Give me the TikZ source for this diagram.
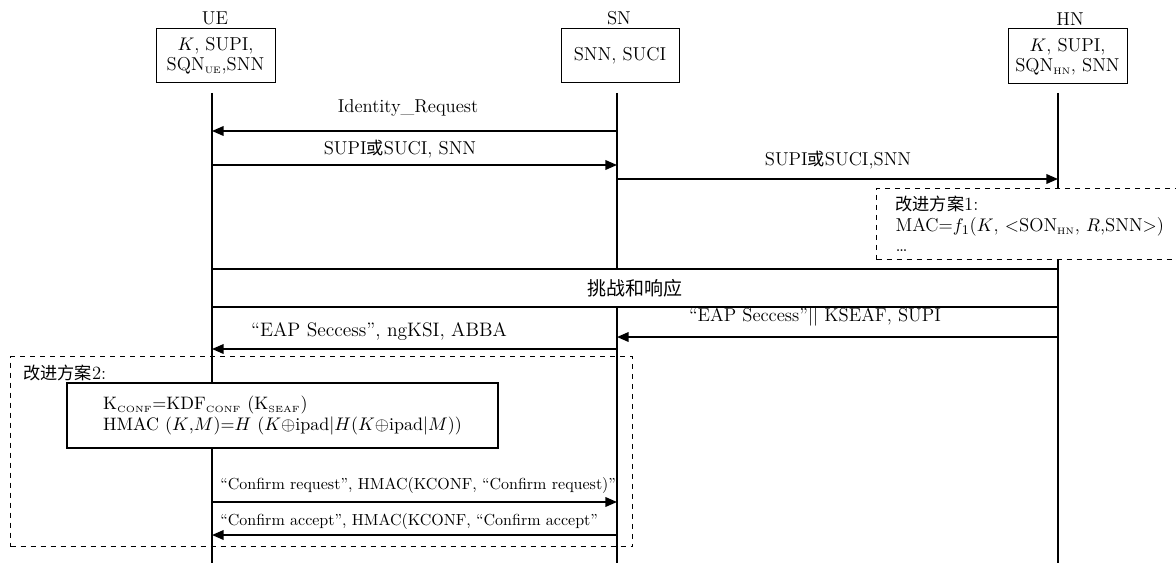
\documentclass[tikz,border=0pt]{standalone}
\usepackage{fontspec}
\newfontfamily\cjk[Scale=0.92]{Noto Sans CJK SC}
\usetikzlibrary{arrows.meta}
% Chinese words inside Latin text
\newcommand{\zh}[1]{{\cjk #1}}
% small upright subscript used in identifiers such as SQN_UE
\newcommand{\lowsub}[1]{$_{\scriptscriptstyle\mathrm{#1}}$}

\begin{document}
\begin{tikzpicture}[x=0.6pt,y=-0.6pt,
  every node/.style={font=\fontsize{11.2}{12.3}\selectfont},
  party/.style={draw, line width=0.6pt, align=center, inner sep=0pt,
    minimum width=71.4pt, minimum height=32.4pt, fill=white},
  head/.style={inner sep=0pt},
  life/.style={line width=1.2pt},
  msg/.style={line width=0.95pt, -{Triangle[length=7pt,width=5.8pt]}},
  lbl/.style={inner sep=0pt},
  small/.style={font=\fontsize{9.6}{11}\selectfont},
  phase/.style={draw, line width=0.7pt, fill=white, inner sep=0pt,
    minimum width=507.6pt, minimum height=22.8pt, font=\fontsize{12.4}{14}\selectfont\cjk},
  plan/.style={draw, dashed, line width=0.6pt, inner sep=0pt},
  formula/.style={draw, line width=0.7pt, fill=white, align=left, inner sep=0pt,
    minimum width=258.6pt, minimum height=39pt, font=\fontsize{10.8}{12.8}\selectfont}]

\useasboundingbox (0,0) rectangle (1176,563);

% participants
\node[head] (ue-name) at (215,18) {UE};
\node[head] (sn-name) at (619,18) {SN};
\node[head] (hn-name) at (1070,19) {HN};

\node[party] (ue-box) at (215.5,55.5) {$K$, SUPI,\\SQN\lowsub{UE},SNN};
\node[party, minimum width=70.8pt] (sn-box) at (620,55.5) {SNN, SUCI};
\node[party, minimum height=33pt] (hn-box) at (1067.5,56.5) {$K$, SUPI,\\SQN\lowsub{HN}, SNN};

% lifelines
\coordinate (ue-top) at (212,93);  \coordinate (ue-bot) at (212,563);
\coordinate (sn-top) at (617,93);  \coordinate (sn-bot) at (617,563);
\coordinate (hn-top) at (1058,93); \coordinate (hn-bot) at (1058,563);
\draw[life] (ue-top) -- (ue-bot);
\draw[life] (sn-top) -- (sn-bot);
\draw[life] (hn-top) -- (hn-bot);

% message rows on each lifeline
\foreach \r/\y in {m1/131, m2/165, m3/179, m4/337, m5/349, m6/502, m7/535} {
  \coordinate (ue-\r) at (212,\y);
  \coordinate (sn-\r) at (617,\y);
  \coordinate (hn-\r) at (1058,\y);
}

% improvement scheme 2 frame
\node[plan, minimum width=373.2pt, minimum height=114pt, anchor=north west] (plan2) at (10,356) {};
\node[lbl, anchor=west] (plan2-title) at (23,373) {\zh{改进方案}2:};

% challenge / response phase
\node[phase] (challenge) at (635,288) {挑战和响应};

% improvement scheme 1 note
\node[plan, fill=white, anchor=north west, align=left, text width=167pt,
  inner xsep=11.4pt, minimum height=42.6pt] (plan1) at (876,188)
  {\zh{改进方案}1:\\MAC=$f_1$($K$, $<$SON\lowsub{HN}, $R$,SNN$>$)\\\dots};

% key confirmation formulas
\node[formula] (kconf) at (282.5,415.5)
  {K\lowsub{CONF}=KDF\lowsub{CONF} (K\lowsub{SEAF})\\
   HMAC ($K$,$M$)=$H$ ($K\oplus$ipad$|H$($K\oplus$ipad$|M$))};

% messages
\draw[msg] (sn-m1) -- (ue-m1);
\node[lbl] (l1) at (408,108) {Identity\_Request};

\draw[msg] (ue-m2) -- (sn-m2);
\node[lbl] (l2) at (400,149) {SUPI\zh{或}SUCI, SNN};

\draw[msg] (sn-m3) -- (hn-m3);
\node[lbl] (l3) at (838,160) {SUPI\zh{或}SUCI,SNN};

\draw[msg] (hn-m4) -- (sn-m4);
\node[lbl] (l4) at (815,317) {“EAP Seccess”|| KSEAF, SUPI};

\draw[msg] (sn-m5) -- (ue-m5);
\node[lbl, font=\fontsize{11.7}{13}\selectfont] (l5) at (379,332) {“EAP Seccess”, ngKSI, ABBA};

\draw[msg] (ue-m6) -- (sn-m6);
\node[lbl, small, anchor=west] (l6) at (220,485) {“Confirm request”, HMAC(KCONF, “Confirm request)”};

\draw[msg] (sn-m7) -- (ue-m7);
\node[lbl, small, anchor=west] (l7) at (220,521) {“Confirm accept”, HMAC(KCONF, “Confirm accept”};

\end{tikzpicture}
\end{document}
